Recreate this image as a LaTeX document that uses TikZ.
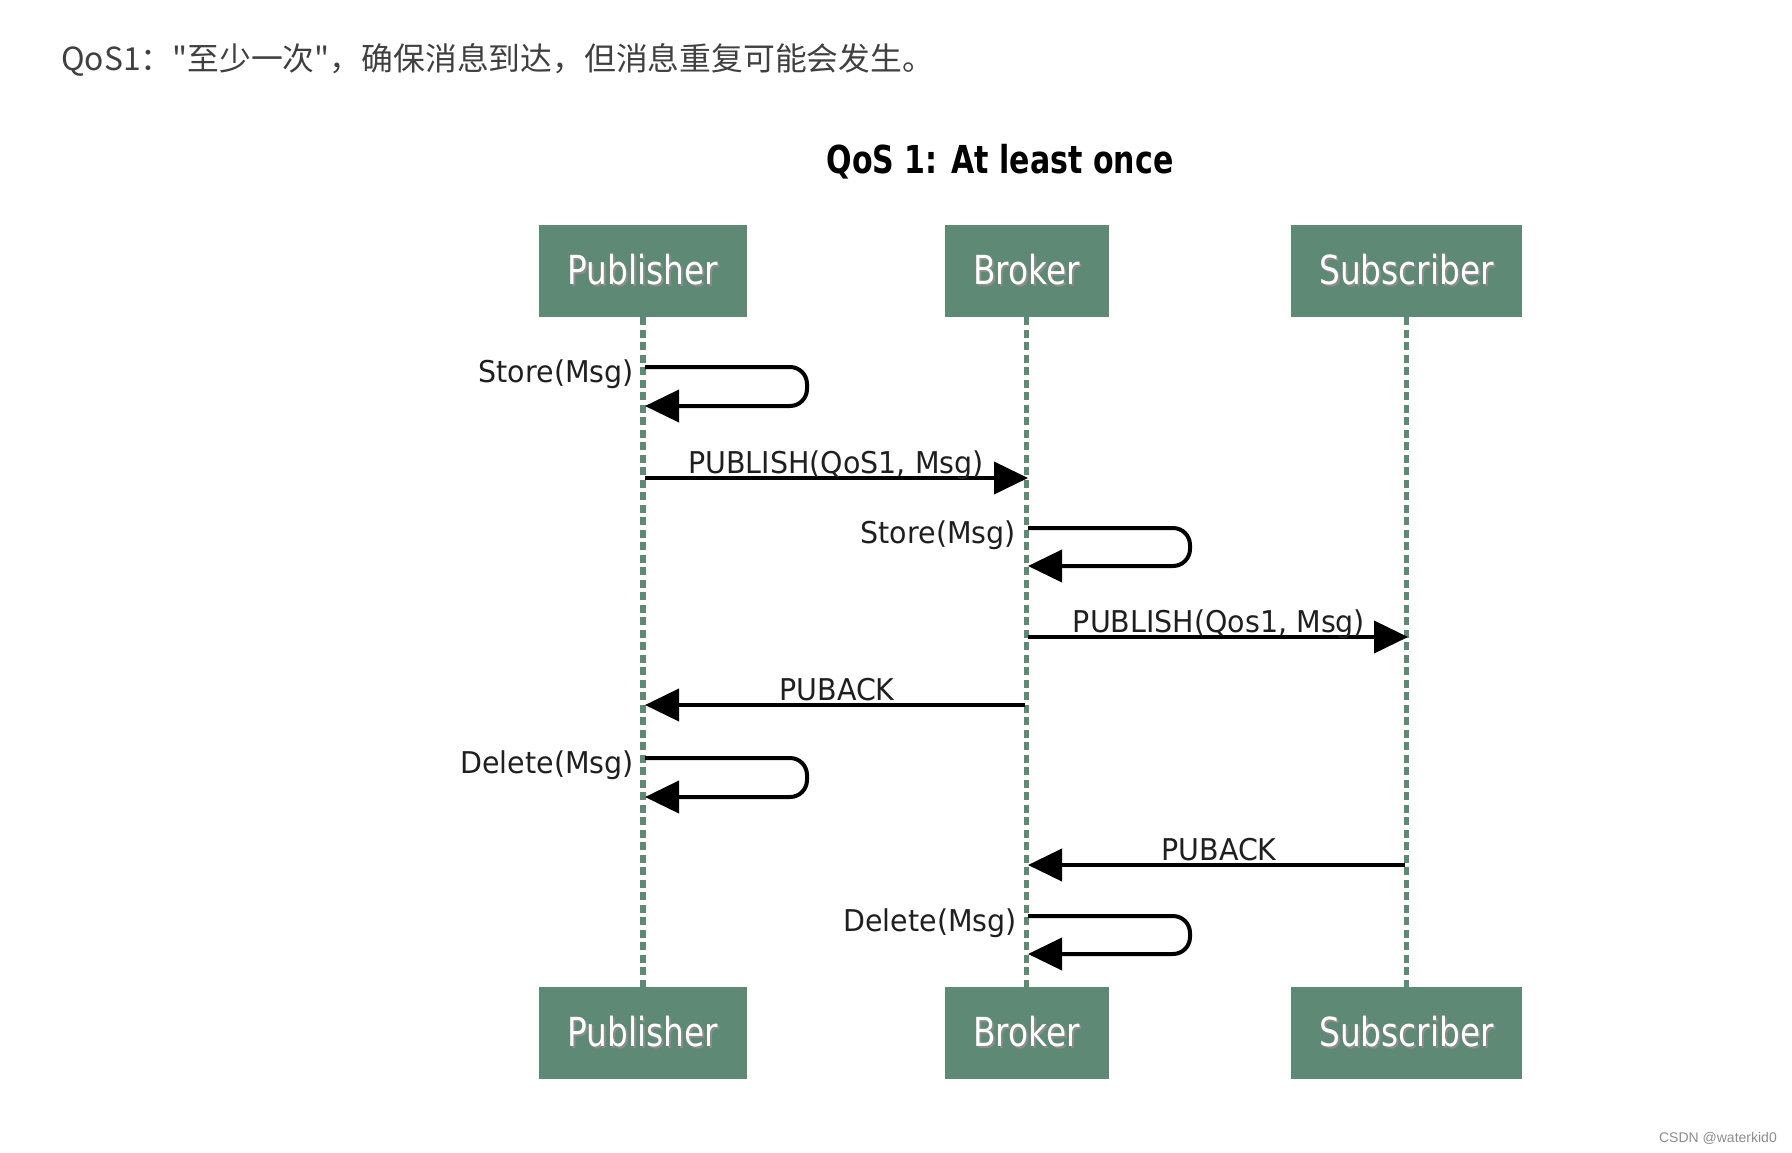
\documentclass[tikz,border=0pt]{standalone}
\usepackage{fontspec}
\usetikzlibrary{arrows.meta}
\newfontfamily\cjk{Noto Sans CJK SC}
\newfontfamily\labfont[FakeStretch=0.95]{DejaVu Sans}
\newfontfamily\boxfont[FakeStretch=0.82]{DejaVu Sans}
\newfontfamily\titlefont[FakeStretch=0.78]{DejaVu Sans}
\newfontfamily\footfont{Liberation Sans}
\definecolor{qgreen}{RGB}{94,137,116}
\newcommand{\shadowtxt}[1]{\makebox[0pt][l]{\hspace{2pt}\raisebox{-2pt}{\color{black!45}#1}}#1}
\begin{document}
\begin{tikzpicture}[x=1pt,y=-1pt,
  actor/.style={fill=qgreen, text=white, minimum height=92pt, inner sep=0pt,
    font=\boxfont\fontsize{40}{48}\selectfont},
  life/.style={draw=qgreen, line width=5.5pt, dash pattern=on 8pt off 4.5pt},
  msg/.style={draw=black, line width=4pt, -{Triangle[length=34pt,width=32pt]}},
  loopmsg/.style={msg, rounded corners=17pt},
  lbl/.style={text=black!88, font=\labfont\fontsize{30}{36}\selectfont, inner sep=0pt}]
\useasboundingbox (0,0) rectangle (1792,1152);

% heading and title
\node[anchor=base west, inner sep=0pt, text=black!75, font=\cjk\fontsize{31.8}{36}\selectfont]
  (head) at (61,70) {QoS1："至少一次"，确保消息到达，但消息重复可能会发生。};
\node[anchor=base, inner sep=0pt, font=\titlefont\bfseries\fontsize{38.5}{44}\selectfont]
  (title) at (1000,173) {QoS 1: At least once};

% actors
\node[actor, minimum width=208pt] (pubT) at (643,271) {\shadowtxt{Publisher}};
\node[actor, minimum width=164pt] (brkT) at (1026.5,271) {\shadowtxt{Broker}};
\node[actor, minimum width=231pt] (subT) at (1406.5,271) {\shadowtxt{Subscriber}};
\node[actor, minimum width=208pt] (pubB) at (643,1033) {\shadowtxt{Publisher}};
\node[actor, minimum width=164pt] (brkB) at (1026.5,1033) {\shadowtxt{Broker}};
\node[actor, minimum width=231pt] (subB) at (1406.5,1033) {\shadowtxt{Subscriber}};

% lifelines
\draw[life] (pubT.south) -- (pubB.north);
\draw[life] (brkT.south) -- (brkB.north);
\draw[life] (subT.south) -- (subB.north);

% coordinates on lifelines
\coordinate (p1a) at (645,367);  \coordinate (p1b) at (645,406);
\coordinate (p2)  at (645,478);  \coordinate (b2)  at (1028,478);
\coordinate (b3a) at (1028,528); \coordinate (b3b) at (1028,566);
\coordinate (b4)  at (1028,637); \coordinate (s4)  at (1408,637);
\coordinate (b5)  at (1025,705); \coordinate (p5)  at (645,705);
\coordinate (p6a) at (645,758);  \coordinate (p6b) at (645,797);
\coordinate (s7)  at (1405,865); \coordinate (b7)  at (1028,865);
\coordinate (b8a) at (1028,916); \coordinate (b8b) at (1028,954);

% messages
\draw[loopmsg] (p1a) -- (807,367) -- (807,406) -- (p1b);
\node[lbl, anchor=base east] (l1) at (634,382) {Store(Msg)};

\draw[msg] (p2) -- (b2);
\node[lbl, anchor=base] (l2) at (836,473) {PUBLISH(QoS1, Msg)};

\draw[loopmsg] (b3a) -- (1190,528) -- (1190,566) -- (b3b);
\node[lbl, anchor=base east] (l3) at (1016,543) {Store(Msg)};

\draw[msg] (b4) -- (s4);
\node[lbl, anchor=base] (l4) at (1219,632) {PUBLISH(Qos1, Msg)};

\draw[msg] (b5) -- (p5);
\node[lbl, anchor=base] (l5) at (837,700) {PUBACK};

\draw[loopmsg] (p6a) -- (807,758) -- (807,797) -- (p6b);
\node[lbl, anchor=base east] (l6) at (634,773) {Delete(Msg)};

\draw[msg] (s7) -- (b7);
\node[lbl, anchor=base] (l7) at (1219,860) {PUBACK};

\draw[loopmsg] (b8a) -- (1190,916) -- (1190,954) -- (b8b);
\node[lbl, anchor=base east] (l8) at (1017,931) {Delete(Msg)};

% footer
\node[anchor=base east, inner sep=0pt, text=black!45, font=\footfont\fontsize{14}{16}\selectfont]
  (foot) at (1777,1142) {CSDN @waterkid0};
\end{tikzpicture}
\end{document}
